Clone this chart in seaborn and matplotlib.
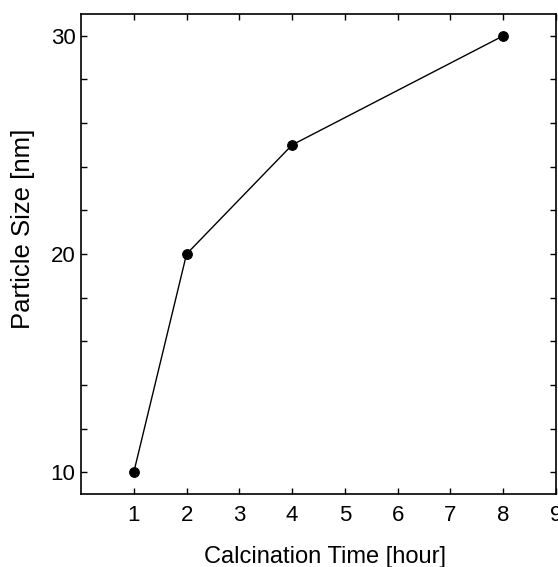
import matplotlib
matplotlib.use("Agg")
import matplotlib.pyplot as plt
import seaborn as sns
import pandas as pd
from matplotlib.ticker import MultipleLocator

# Data
calcination_time = [1, 2, 4, 8]
particle_size = [10, 20, 25, 30]
x_ticks = [1, 2, 3, 4, 5, 6, 7, 8, 9]
y_ticks = [10, 20, 30]

df = pd.DataFrame({"time": calcination_time, "size": particle_size})

sns.set_style("ticks")
plt.rcParams["font.family"] = ["Liberation Sans", "DejaVu Sans"]
plt.rcParams["text.color"] = "black"
plt.rcParams["axes.labelcolor"] = "black"

fig = plt.figure(figsize=(5.58, 5.67), dpi=100)
ax = fig.add_axes([0.1452, 0.1287, 0.8512, 0.8466])

sns.lineplot(data=df, x="time", y="size", ax=ax, color="black",
             linewidth=1.0, marker="o", markersize=7,
             markeredgecolor="black", markerfacecolor="black")

ax.set_xlim(0, 9)
ax.set_ylim(9, 31)
ax.set_xticks(x_ticks)
ax.set_yticks(y_ticks)
ax.yaxis.set_minor_locator(MultipleLocator(2))

ax.tick_params(axis="both", which="both", direction="in", length=4.5,
               width=1, top=True, right=True, colors="black")
ax.tick_params(axis="x", labelsize=16, pad=8)
ax.tick_params(axis="y", labelsize=16, pad=4)

for s in ax.spines.values():
    s.set_linewidth(1.2)
    s.set_color("black")

ax.set_xlabel("Calcination Time [hour]", fontsize=17, color="black")
ax.set_ylabel("Particle Size [nm]", fontsize=18.5, color="black")
ax.xaxis.set_label_coords(0.513, -0.108)
ax.yaxis.set_label_coords(-0.097, 0.552)

fig.savefig("out.png", dpi=100)
